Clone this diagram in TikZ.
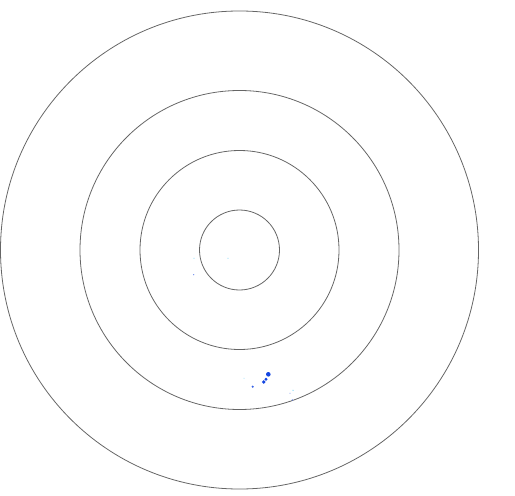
\documentclass[tikz,border=0pt]{standalone}
\definecolor{dotblue}{RGB}{20,70,225}
\begin{document}
\begin{tikzpicture}[x=1bp,y=-1bp,
  ring/.style={draw=black!60,line width=0.8bp}]
\useasboundingbox (0,0) rectangle (515,496);
\coordinate (c) at (239.5,250);
\foreach \r in {40,99.5,159.5,239}{
  \draw[ring] (c) circle[radius=\r];
}
% faint points near centre
\fill[cyan!40] (194,258.3) circle[radius=0.6];
\fill[cyan!40] (228,258.3) circle[radius=0.6];
\fill[dotblue!60] (193.7,274.7) circle[radius=0.7];
% blue cluster
\fill[dotblue] (268.3,374.3) circle[radius=2.3];
\fill[dotblue] (266,379.3) circle[radius=1.6];
\fill[dotblue] (263.7,382) circle[radius=1.8];
\fill[dotblue!85] (252.7,386.7) circle[radius=1.2];
\fill[cyan!25] (244,378.3) circle[radius=0.7];
\fill[cyan!50] (293,390.3) circle[radius=0.7];
\fill[dotblue!40] (290,393.3) circle[radius=0.6];
\fill[dotblue!70] (292.3,400) circle[radius=0.7];
\end{tikzpicture}
\end{document}
